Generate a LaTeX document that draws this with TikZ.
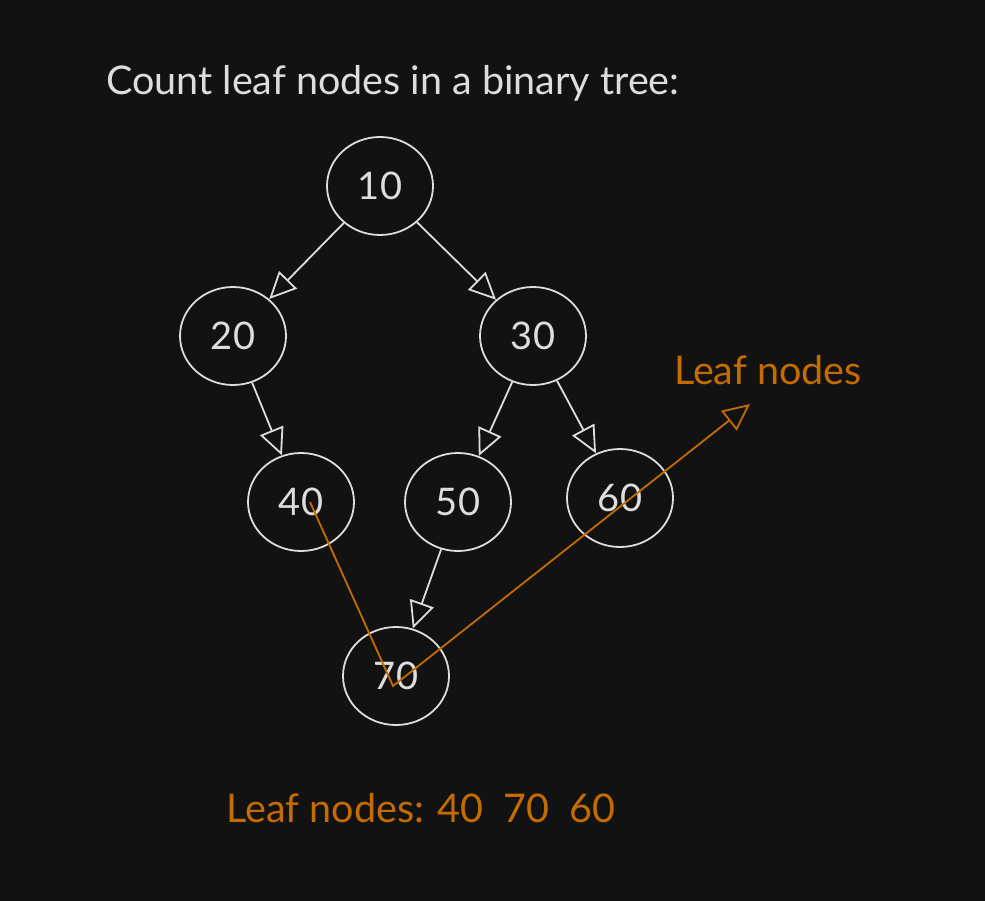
\documentclass[tikz,border=0pt]{standalone}
\usepackage{fontspec}
\setmainfont{Lato}
\usetikzlibrary{arrows.meta,shapes.geometric}
\definecolor{bgdark}{HTML}{121212}
\definecolor{linegray}{HTML}{DDDDDD}
\definecolor{leaforange}{HTML}{C46C00}

\begin{document}
\begin{tikzpicture}[
x = 1pt, y = -1pt,
treenode/.style={ellipse, draw = linegray, line width = 1.8pt, text = linegray,
minimum width = 106pt, minimum height = 98pt, inner sep = 0pt,
font = \fontsize{38}{44}\selectfont},
treearr/.style={-{Triangle[open, length = 27pt, width = 25pt]}, line width = 1.8pt, draw = linegray},
leafarr/.style={-{Triangle[open, length = 27pt, width = 25pt]}, line width = 1.8pt, draw = leaforange},
leaftext/.style={text = leaforange, font = \fontsize{39.5}{46}\selectfont, inner sep = 0pt}]

\fill[bgdark] (0,0) rectangle (985,901);

\node[anchor = west, text = linegray, inner sep = 0pt, font = \fontsize{39.5}{46}\selectfont] (title) at (106,83) {Count leaf nodes in a binary tree:};

\node[treenode] (n10) at (380,186) {10};
\node[treenode] (n20) at (233,336) {20};
\node[treenode] (n30) at (533,336) {30};
\node[treenode] (n40) at (301,502) {40};
\node[treenode] (n50) at (458,502) {50};
\node[treenode] (n60) at (620,498) {60};
\node[treenode] (n70) at (396,676) {70};

\draw[treearr] (n10) -- (n20);
\draw[treearr] (n10) -- (n30);
\draw[treearr] (n20) -- (n40);
\draw[treearr] (n30) -- (n50);
\draw[treearr] (n30) -- (n60);
\draw[treearr] (n50) -- (n70);

\node[leaftext] (lbl) at (768,370) {Leaf nodes};
\coordinate (p40) at (310,502);
\coordinate (p70) at (393,686);
\coordinate (tip) at (750,404);
\draw[leafarr] (p40) -- (p70) -- (tip);

\node[leaftext] (count) at (421,808) {Leaf nodes: 40\ \ 70\ \ 60};

\end{tikzpicture}
\end{document}
